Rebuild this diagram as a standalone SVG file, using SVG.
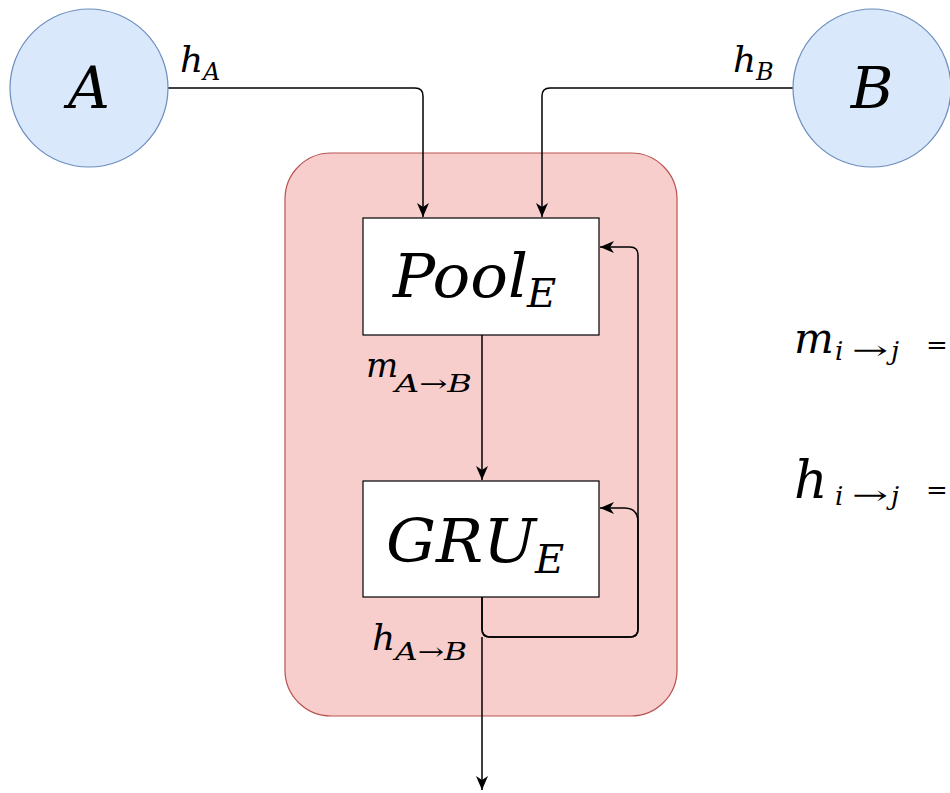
<svg xmlns="http://www.w3.org/2000/svg" width="950" height="793" viewBox="0 0 950 793">
<defs>
<style>
.node-c{fill:#dae8fc;stroke:#6c8ebf;stroke-width:1.2}
.box{fill:#ffffff;stroke:#000000;stroke-width:1.2}
.edge{fill:none;stroke:#000000;stroke-width:1.5}
.t{font-family:"DejaVu Serif",serif;font-style:italic;fill:#000}
.up{font-style:normal}
</style>
<marker id="arr" markerUnits="userSpaceOnUse" markerWidth="16" markerHeight="14" refX="14" refY="7" orient="auto">
<path d="M0,1 L14,7 L0,13 L4,7 z" fill="#000"/>
</marker>
</defs>
<rect width="950" height="793" fill="#ffffff"/>

<g id="container">
<rect x="285" y="153" width="392" height="563" rx="46" ry="46" fill="#f8cecc" stroke="#b85450" stroke-width="1.2"/>
</g>

<g id="connectors">
<path class="edge" d="M168,88 H415 Q423,88 423,96 V217" marker-end="url(#arr)"/>
<path class="edge" d="M793,88 H550 Q542,88 542,96 V217" marker-end="url(#arr)"/>
<path class="edge" d="M482,335 V480" marker-end="url(#arr)"/>
<path class="edge" d="M482,597 V629 Q482,637 490,637 H630 Q638,637 638,629 V255 Q638,247 630,247 H600" marker-end="url(#arr)"/>
<path class="edge" d="M482,597 V629 Q482,637 490,637 H630 Q638,637 638,629 V522 Q638,508 624,508 H600" marker-end="url(#arr)"/>
<path class="edge" d="M482,637 V790" marker-end="url(#arr)"/>
</g>

<g id="nodeA">
<circle class="node-c" cx="89" cy="88" r="79"/>
<text class="t" x="89" y="108" font-size="58" text-anchor="middle">A</text>
</g>

<g id="nodeB">
<circle class="node-c" cx="872" cy="88" r="79"/>
<text class="t" x="872" y="108" font-size="58" text-anchor="middle">B</text>
</g>

<g id="pool">
<rect class="box" x="363" y="218" width="236" height="117"/>
<text class="t" x="393" y="297" font-size="60" textLength="135" lengthAdjust="spacingAndGlyphs">Pool</text>
<text class="t" x="527" y="307" font-size="40">E</text>
</g>

<g id="gru">
<rect class="box" x="363" y="481" width="236" height="116"/>
<text class="t" x="386" y="562" font-size="60" textLength="150" lengthAdjust="spacingAndGlyphs">GRU</text>
<text class="t" x="535" y="573" font-size="40">E</text>
</g>

<g id="labels">
<text class="t" x="180" y="72" font-size="36">h</text>
<text class="t" x="203" y="80" font-size="24">A</text>
<text class="t" x="733" y="72" font-size="36">h</text>
<text class="t" x="756" y="80" font-size="24">B</text>
<text class="t" x="366" y="377" font-size="34">m</text>
<text class="t" x="395" y="392" font-size="24" textLength="77" lengthAdjust="spacingAndGlyphs">A→B</text>
<text class="t" x="372" y="650" font-size="36">h</text>
<text class="t" x="395" y="660" font-size="24" textLength="72" lengthAdjust="spacingAndGlyphs">A→B</text>
</g>

<g id="equations">
<text class="t" x="794" y="353" font-size="42">m</text>
<text class="t" x="835" y="360" font-size="26">i</text>
<text class="t up" x="852" y="359" font-size="26" textLength="36" lengthAdjust="spacingAndGlyphs">→</text>
<text class="t" x="891" y="360" font-size="26">j</text>
<text class="t up" x="926" y="354" font-size="26">=</text>
<text class="t" x="794" y="498" font-size="52">h</text>
<text class="t" x="835" y="505" font-size="26">i</text>
<text class="t up" x="852" y="504" font-size="26" textLength="36" lengthAdjust="spacingAndGlyphs">→</text>
<text class="t" x="891" y="505" font-size="26">j</text>
<text class="t up" x="926" y="499" font-size="26">=</text>
</g>
</svg>
